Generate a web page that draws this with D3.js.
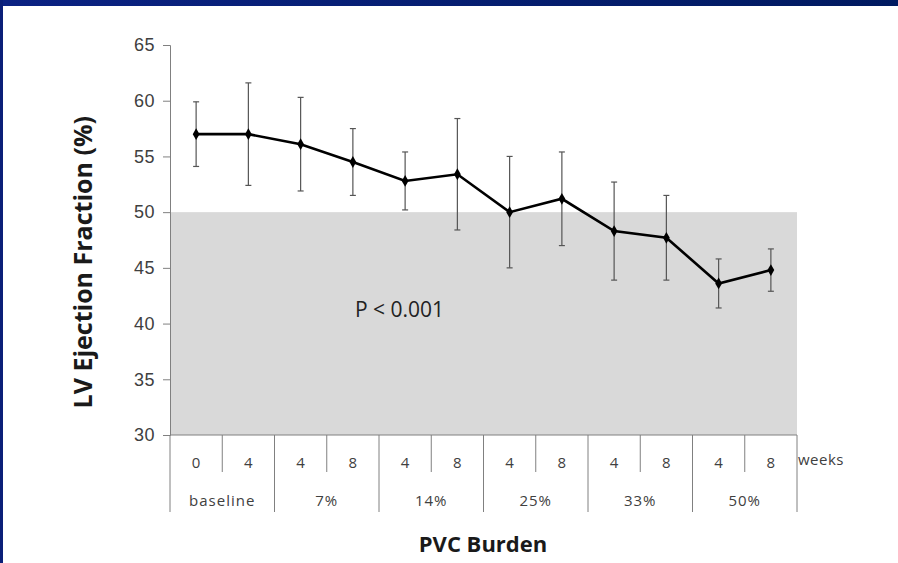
<!DOCTYPE html>
<html>
<head>
<meta charset="utf-8">
<script src="https://cdn.jsdelivr.net/npm/d3@7"></script>
<style>
  body { margin: 0; background: #fff; }
  svg { display: block; font-family: "Open Sans", Lato, sans-serif; }
</style>
</head>
<body>
<div id="chart"></div>
<script>
// Data
const weeks = ["0", "4", "4", "8", "4", "8", "4", "8", "4", "8", "4", "8"];
const burdens = ["baseline", "7%", "14%", "25%", "33%", "50%"];
const efMean = [57.0, 57.0, 56.1, 54.5, 52.8, 53.4, 50.0, 51.2, 48.3, 47.7, 43.6, 44.8];
const efSD = [2.9, 4.6, 4.2, 3.0, 2.6, 5.0, 5.0, 4.2, 4.4, 3.8, 2.2, 1.9];
const yTicks = [30, 35, 40, 45, 50, 55, 60, 65];
const normalCutoff = 50;

const W = 898, H = 563;
const margin = { top: 45, left: 170, right: 101, bottom: 128 };
const width = W - margin.left - margin.right,
  height = H - margin.top - margin.bottom;

const svg = d3.select("#chart").append("svg")
  .attr("width", W).attr("height", H);

// frame: blue band on top and left
const grad = svg.append("defs").append("linearGradient")
  .attr("id", "band").attr("x1", "0").attr("x2", "1");
grad.append("stop").attr("offset", "0").attr("stop-color", "#0b2283");
grad.append("stop").attr("offset", "1").attr("stop-color", "#001a60");
svg.append("rect").attr("x", 0).attr("y", 0).attr("width", W).attr("height", 6).attr("fill", "url(#band)");
svg.append("rect").attr("x", 0).attr("y", 0).attr("width", 3).attr("height", H).attr("fill", "#0a1f78");

const g = svg.append("g")
  .attr("transform", "translate(" + margin.left + "," + margin.top + ")");

const idx = d3.range(efMean.length);
const x = d3.scaleBand().domain(idx).range([0, width]);
const y = d3.scaleLinear().domain([30, 65]).range([height, 0]);

// shaded area below 50%
g.append("rect")
  .attr("x", 0).attr("y", y(normalCutoff))
  .attr("width", width).attr("height", y(30) - y(normalCutoff))
  .attr("fill", "#d9d9d9");

// Y axis
const yAxis = g.append("g")
  .call(d3.axisLeft(y).tickValues(yTicks).tickSize(7).tickPadding(8));
yAxis.select(".domain").attr("stroke", "#808080");
yAxis.selectAll(".tick line").attr("stroke", "#808080");
yAxis.selectAll(".tick text").attr("fill", "#404040")
  .style("font-size", "18px").style("letter-spacing", "0.5px");

g.append("text")
  .attr("transform", "translate(-87," + y(45.5) + ") rotate(-90)")
  .attr("text-anchor", "middle")
  .attr("dy", "0.35em")
  .style("font-size", "25px").style("font-weight", "bold").attr("fill", "#1a1a1a")
  .text("LV Ejection Fraction (%)");

// X axis: two-level category table
const xa = g.append("g").attr("transform", "translate(0," + height + ")");
xa.append("line").attr("x1", 0).attr("x2", width).attr("stroke", "#808080");
const groupW = x.step() * 2;
burdens.forEach((b, i) => {
  xa.append("line")
    .attr("x1", i * groupW).attr("x2", i * groupW)
    .attr("y1", 0).attr("y2", 77).attr("stroke", "#808080");
  xa.append("line")
    .attr("x1", i * groupW + x.step()).attr("x2", i * groupW + x.step())
    .attr("y1", 0).attr("y2", 37).attr("stroke", "#808080");
  xa.append("text")
    .attr("x", i * groupW + groupW / 2).attr("y", 71)
    .attr("text-anchor", "middle").attr("fill", "#404040")
    .style("font-size", "15px").style("letter-spacing", "1px").text(b);
});
xa.append("line").attr("x1", width).attr("x2", width)
  .attr("y1", 0).attr("y2", 77).attr("stroke", "#808080");
xa.selectAll(".wk").data(idx).join("text")
  .attr("class", "wk")
  .attr("x", d => x(d) + x.bandwidth() / 2).attr("y", 33)
  .attr("text-anchor", "middle").attr("fill", "#404040")
  .style("font-size", "15px").text(d => weeks[d]);
xa.append("text")
  .attr("x", width + 1).attr("y", 30)
  .attr("fill", "#404040").style("font-size", "15px").style("letter-spacing", "0.5px")
  .text("weeks");

g.append("text")
  .attr("x", 313).attr("y", height + 117)
  .attr("text-anchor", "middle")
  .style("font-size", "22px").style("font-weight", "bold").attr("fill", "#1a1a1a")
  .text("PVC Burden");

// error bars
const cx = d => x(d) + x.bandwidth() / 2;
const eb = g.append("g").attr("stroke", "#555").attr("stroke-width", 1.2);
idx.forEach(i => {
  eb.append("line").attr("x1", cx(i)).attr("x2", cx(i))
    .attr("y1", y(efMean[i] + efSD[i])).attr("y2", y(efMean[i] - efSD[i]));
  [efMean[i] + efSD[i], efMean[i] - efSD[i]].forEach(v => {
    eb.append("line").attr("x1", cx(i) - 3).attr("x2", cx(i) + 3)
      .attr("y1", y(v)).attr("y2", y(v));
  });
});

// mean line with diamond markers
g.append("path")
  .datum(idx)
  .attr("fill", "none").attr("stroke", "#000").attr("stroke-width", 2.6)
  .attr("d", d3.line().x(cx).y(i => y(efMean[i])));
g.selectAll(".pt").data(idx).join("path")
  .attr("class", "pt")
  .attr("transform", i => "translate(" + cx(i) + "," + y(efMean[i]) + ")")
  .attr("d", d3.symbol(d3.symbolDiamond, 40))
  .attr("fill", "#000");

g.append("text")
  .attr("x", 185).attr("y", 272)
  .attr("fill", "#222").style("font-size", "21px")
  .text("P < 0.001");
</script>
</body>
</html>
